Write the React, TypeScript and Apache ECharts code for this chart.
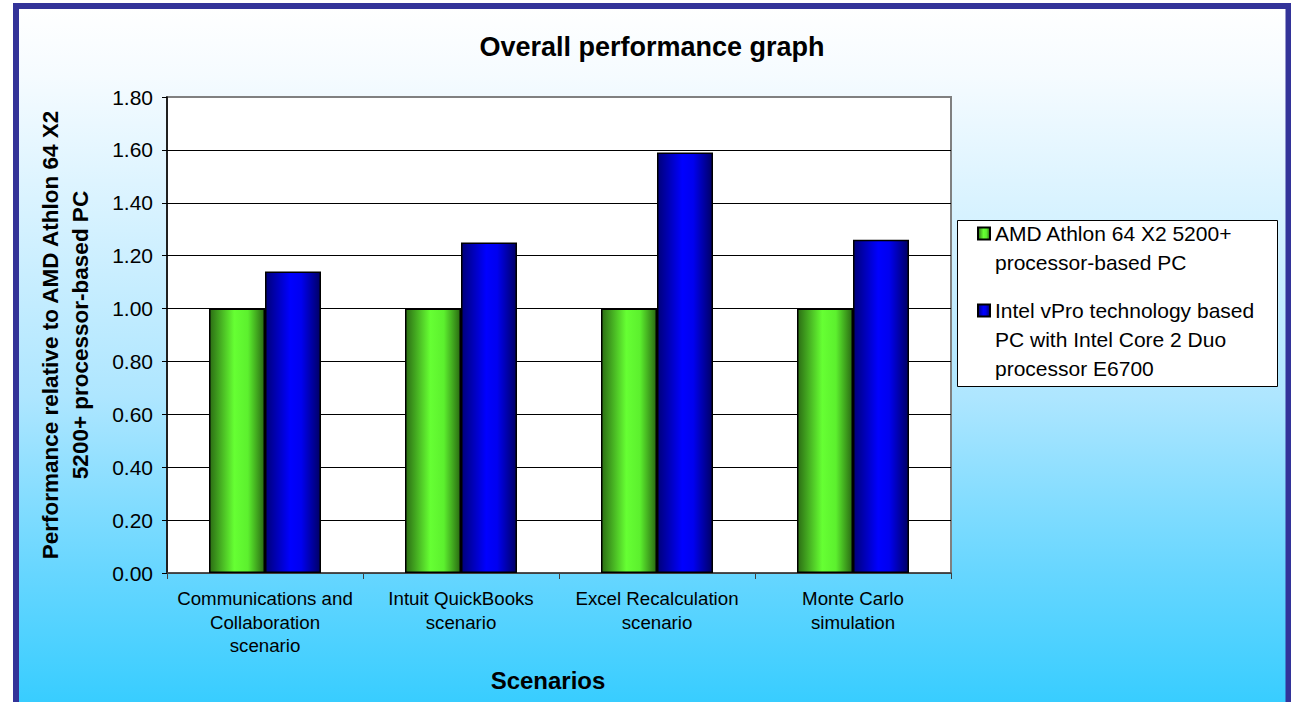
import React, { useEffect, useRef } from "react";
import * as echarts from "echarts";

const categories = [
  "Communications and\nCollaboration\nscenario",
  "Intuit QuickBooks\nscenario",
  "Excel Recalculation\nscenario",
  "Monte Carlo\nsimulation",
];
const amdName = "AMD Athlon 64 X2 5200+ processor-based PC";
const intelName = "Intel vPro technology based PC with Intel Core 2 Duo processor E6700";
const amdValues = [1.0, 1.0, 1.0, 1.0];
const intelValues = [1.14, 1.25, 1.59, 1.26];
const yTicks = { min: 0, max: 1.8, interval: 0.2 };

const legendText: Record<string, string> = {
  [amdName]: " \nAMD Athlon 64 X2 5200+\nprocessor-based PC",
  [intelName]: " \n \nIntel vPro technology based\nPC with Intel Core 2 Duo\nprocessor E6700",
};

const FONT = "'Liberation Sans', Arial, sans-serif";

export default function App() {
  const ref = useRef<HTMLDivElement>(null);
  useEffect(() => {
    if (!ref.current) return;
    const chart = echarts.init(ref.current, undefined, { renderer: "svg" });
    const green = new echarts.graphic.LinearGradient(0, 0, 1, 0, [
      { offset: 0, color: "#2C6E14" },
      { offset: 0.45, color: "#66FF33" },
      { offset: 0.7, color: "#5CF02E" },
      { offset: 1, color: "#2A6A12" },
    ]);
    const blue = new echarts.graphic.LinearGradient(0, 0, 1, 0, [
      { offset: 0, color: "#00007A" },
      { offset: 0.45, color: "#0000FF" },
      { offset: 0.65, color: "#0000F0" },
      { offset: 1, color: "#000066" },
    ]);
    chart.setOption({
      animation: false,
      textStyle: { fontFamily: FONT, color: "#000" },
      graphic: [
        {
          type: "rect",
          z: -100,
          silent: true,
          shape: { x: 16, y: 6, width: 1272, height: 710 },
          style: {
            fill: new echarts.graphic.LinearGradient(0, 0, 0, 1, [
              { offset: 0, color: "#FFFFFF" },
              { offset: 0.1, color: "#F5FBFF" },
              { offset: 0.55, color: "#AEE6FF" },
              { offset: 0.8, color: "#66D6FF" },
              { offset: 1, color: "#33CCFF" },
            ]),
          },
        },
        {
          type: "rect",
          z: 100,
          silent: true,
          shape: { x: 16, y: 6, width: 1272.5, height: 710 },
          style: { fill: "none", stroke: "#333399", lineWidth: 6 },
        },
        {
          type: "rect",
          z: 0,
          silent: true,
          shape: { x: 957.5, y: 220.5, width: 320, height: 166 },
          style: { fill: "#FFFFFF", stroke: "#000", lineWidth: 1 },
        },
      ],
      title: {
        text: "Overall performance graph",
        left: 647,
        top: 28,
        textAlign: "center",
        textStyle: { fontFamily: FONT, fontSize: 27, fontWeight: "bold", color: "#000" },
      },
      legend: {
        orient: "vertical",
        left: 977,
        top: 190,
        padding: 0,
        itemGap: -39,
        itemWidth: 12,
        itemHeight: 12,
        icon: "rect",
        selectedMode: false,
        z: 5,
        data: [amdName, intelName],
        formatter: (name: string) => legendText[name] || name,
        textStyle: { fontFamily: FONT, fontSize: 21, lineHeight: 29, color: "#000" },
      },
      grid: {
        left: 167,
        top: 97,
        width: 784,
        height: 476,
        show: true,
        backgroundColor: "#FFFFFF",
        borderColor: "#808080",
        borderWidth: 2,
        containLabel: false,
        outerBoundsMode: "none",
      },
      xAxis: {
        type: "category",
        data: categories,
        name: "Scenarios",
        nameLocation: "middle",
        nameGap: 95,
        nameTextStyle: {
          fontFamily: FONT,
          fontSize: 24,
          fontWeight: "bold",
          color: "#000",
          padding: [0, 22, 0, 0],
        },
        axisLine: { show: true, lineStyle: { color: "#404040", width: 1.5 } },
        axisTick: { show: true, length: 6, alignWithLabel: false, lineStyle: { color: "#404040" } },
        axisLabel: {
          interval: 0,
          margin: 14,
          fontFamily: FONT,
          fontSize: 18.7,
          lineHeight: 23.5,
          color: "#000",
          align: "center",
        },
        splitLine: { show: false },
      },
      yAxis: {
        type: "value",
        min: yTicks.min,
        max: yTicks.max,
        interval: yTicks.interval,
        name: "Performance relative to AMD Athlon 64 X2\n5200+ processor-based PC",
        nameLocation: "middle",
        nameGap: 72,
        nameTextStyle: { fontFamily: FONT, fontSize: 22.5, fontWeight: "bold", color: "#000", lineHeight: 30 },
        axisLine: { show: true, lineStyle: { color: "#000", width: 1.5 } },
        axisTick: { show: true, length: 5, lineStyle: { color: "#000" } },
        axisLabel: {
          margin: 14,
          fontFamily: FONT,
          fontSize: 21,
          color: "#000",
          formatter: (v: number) => v.toFixed(2),
        },
        splitLine: {
          show: true,
          lineStyle: {
            color: ["#404040", "#000", "#000", "#000", "#000", "#000", "#000", "#000", "#000", "#808080"],
            width: 1,
          },
        },
      },
      series: [
        {
          name: amdName,
          type: "bar",
          data: amdValues,
          barWidth: 56,
          barGap: "0%",
          itemStyle: { color: green, borderColor: "#000", borderWidth: 1.5 },
        },
        {
          name: intelName,
          type: "bar",
          data: intelValues,
          barWidth: 56,
          barGap: "0%",
          itemStyle: { color: blue, borderColor: "#000", borderWidth: 1.5 },
        },
      ],
    });
    return () => chart.dispose();
  }, []);
  return (
    <div
      ref={ref}
      style={{ position: "absolute", left: 0, top: 0, width: 1291, height: 702 }}
    />
  );
}
